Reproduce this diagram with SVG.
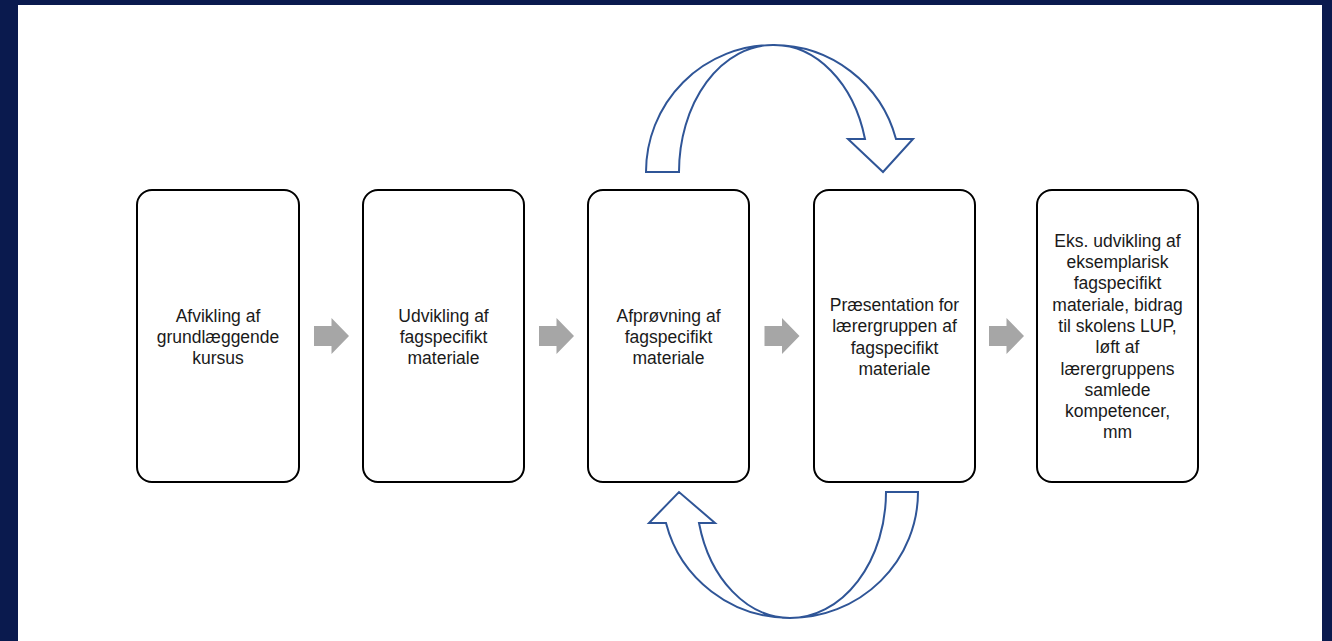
<svg xmlns="http://www.w3.org/2000/svg" width="1332" height="641" viewBox="0 0 1332 641">
<style>
.box{fill:#ffffff;stroke:#000000;stroke-width:2}
.lbl{font-family:"Liberation Sans",Arial,sans-serif;font-size:17.5px;fill:#1a1a1a;text-anchor:middle}
.step{fill:#a6a6a6}
.curve{fill:#ffffff;stroke:#2f5597;stroke-width:2;stroke-linejoin:miter}
</style>
<defs>
<path id="chev" d="M-17.5,-10 H0 V-18 L17.5,0 L0,18 V10 H-17.5 Z"/>
</defs>
<rect x="0" y="0" width="1332" height="641" fill="#0a1a4e"/>
<rect x="18" y="5" width="1304" height="636" fill="#ffffff"/>

<g id="connectors">
<use href="#chev" class="step" x="331.5" y="336"/>
<use href="#chev" class="step" x="556.5" y="336"/>
<use href="#chev" class="step" x="782" y="336"/>
<use href="#chev" class="step" x="1006.5" y="336"/>
<path class="curve" d="M646,172 A127,127 0 0 1 773,45 A127,127 0 0 1 896,139 H913 L883,172 L848,139 H865 A94,127 0 0 0 773,45 A94,127 0 0 0 679,172 Z"/>
<path class="curve" d="M886,492 H918 A128,126 0 0 1 790,618 A128,126 0 0 1 666,523 H649 L679,492 L715,523 H699 A94,126 0 0 0 790,618 A96,126 0 0 0 886,492 Z"/>
</g>

<g id="node1">
<rect class="box" x="137" y="190" width="162" height="292" rx="15"/>
<text class="lbl" x="218" y="321.7">Afvikling af</text>
<text class="lbl" x="218" y="343">grundlæggende</text>
<text class="lbl" x="218" y="364.3">kursus</text>
</g>
<g id="node2">
<rect class="box" x="363" y="190" width="161" height="292" rx="15"/>
<text class="lbl" x="443.5" y="321.7">Udvikling af</text>
<text class="lbl" x="443.5" y="343">fagspecifikt</text>
<text class="lbl" x="443.5" y="364.3">materiale</text>
</g>
<g id="node3">
<rect class="box" x="588" y="190" width="161" height="292" rx="15"/>
<text class="lbl" x="668.5" y="321.7">Afprøvning af</text>
<text class="lbl" x="668.5" y="343">fagspecifikt</text>
<text class="lbl" x="668.5" y="364.3">materiale</text>
</g>
<g id="node4">
<rect class="box" x="814" y="190" width="161" height="292" rx="15"/>
<text class="lbl" x="894.5" y="311">Præsentation for</text>
<text class="lbl" x="894.5" y="332.3">lærergruppen af</text>
<text class="lbl" x="894.5" y="353.6">fagspecifikt</text>
<text class="lbl" x="894.5" y="375">materiale</text>
</g>
<g id="node5">
<rect class="box" x="1037" y="190" width="161" height="292" rx="15"/>
<text class="lbl" x="1117.5" y="246.7">Eks. udvikling af</text>
<text class="lbl" x="1117.5" y="268">eksemplarisk</text>
<text class="lbl" x="1117.5" y="289.3">fagspecifikt</text>
<text class="lbl" x="1117.5" y="310.6">materiale, bidrag</text>
<text class="lbl" x="1117.5" y="331.9">til skolens LUP,</text>
<text class="lbl" x="1117.5" y="353.2">løft af</text>
<text class="lbl" x="1117.5" y="374.5">lærergruppens</text>
<text class="lbl" x="1117.5" y="395.8">samlede</text>
<text class="lbl" x="1117.5" y="417.1">kompetencer,</text>
<text class="lbl" x="1117.5" y="438.4">mm</text>
</g>
</svg>
